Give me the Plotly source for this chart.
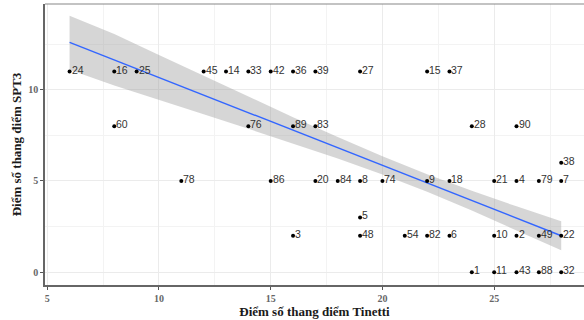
import plotly.graph_objects as go

# Scatter points: Tinetti score (x), SPT3 score (y), patient label
tinetti = [6, 8, 9, 12, 13, 14, 15, 16, 17, 19, 22, 23,
           8, 14, 16, 17, 24, 26,
           28,
           11, 15, 17, 18, 19, 20, 22, 23, 25, 26, 27, 28,
           19,
           16, 19, 21, 22, 23, 25, 26, 27, 28,
           24, 25, 26, 27, 28]
spt3 = [11, 11, 11, 11, 11, 11, 11, 11, 11, 11, 11, 11,
        8, 8, 8, 8, 8, 8,
        6,
        5, 5, 5, 5, 5, 5, 5, 5, 5, 5, 5, 5,
        3,
        2, 2, 2, 2, 2, 2, 2, 2, 2,
        0, 0, 0, 0, 0]
labels = ["24", "16", "25", "45", "14", "33", "42", "36", "39", "27", "15", "37",
          "60", "76", "89", "83", "28", "90",
          "38",
          "78", "86", "20", "84", "8", "74", "9", "18", "21", "4", "79", "7",
          "5",
          "3", "48", "54", "82", "6", "10", "2", "49", "22",
          "1", "11", "43", "88", "32"]

# Linear fit and its confidence band
fit_x = [6, 8, 10, 12, 14, 16, 18, 20, 22, 24, 26, 28]
fit_y = [12.60, 11.64, 10.67, 9.71, 8.74, 7.78, 6.82, 5.85, 4.89, 3.92, 2.96, 2.00]
band_hi = [14.05, 13.05, 11.90, 10.76, 9.62, 8.50, 7.41, 6.35, 5.37, 4.46, 3.61, 2.80]
band_lo = [11.10, 10.23, 9.44, 8.66, 7.86, 7.06, 6.23, 5.35, 4.41, 3.38, 2.31, 1.20]

x_ticks = [5, 10, 15, 20, 25]
y_ticks = [0, 5, 10]
x_title = "Điểm số thang điểm Tinetti"
y_title = "Điểm số thang điểm SPT3"

fig = go.Figure()
fig.add_trace(go.Scatter(
    x=fit_x + fit_x[::-1], y=band_hi + band_lo[::-1],
    fill="toself", fillcolor="rgba(153,153,153,0.4)",
    line=dict(width=0), mode="lines", hoverinfo="skip", showlegend=False))
fig.add_trace(go.Scatter(
    x=fit_x, y=fit_y, mode="lines",
    line=dict(color="#3366FF", width=1.4), showlegend=False))
fig.add_trace(go.Scatter(
    x=tinetti, y=spt3, mode="markers",
    marker=dict(color="black", size=4), showlegend=False))

for xv, yv, lab in zip(tinetti, spt3, labels):
    fig.add_annotation(x=xv, y=yv, text=lab, showarrow=False,
                       xanchor="left", yanchor="middle", xshift=0, yshift=2,
                       font=dict(family="Liberation Sans, Arial", size=10.5, color="#333333"))

axis_font = dict(family="Liberation Serif, serif", size=10, color="#666666", weight="bold")
title_font = dict(family="Liberation Serif, serif", size=13, color="#1a1a1a", weight="bold")

fig.update_xaxes(
    range=[4.9, 29.02], tickvals=x_ticks, ticks="outside", ticklen=3,
    tickcolor="#555555", tickfont=axis_font, automargin=False,
    showgrid=True, gridcolor="#ebebeb", gridwidth=1,
    minor=dict(showgrid=True, gridcolor="#f3f3f3", gridwidth=0.8, dtick=2.5, tick0=2.5),
    showline=True, linecolor="#666666", linewidth=1.5, zeroline=False,
    title=dict(text=x_title, font=title_font, standoff=0))
fig.update_yaxes(
    range=[-0.7, 14.7], tickvals=y_ticks, ticks="outside", ticklen=3,
    tickcolor="#555555", tickfont=axis_font, automargin=False,
    showgrid=True, gridcolor="#ebebeb", gridwidth=1,
    minor=dict(showgrid=True, gridcolor="#f3f3f3", gridwidth=0.8, dtick=2.5, tick0=2.5),
    showline=True, linecolor="#666666", linewidth=1.5, zeroline=False,
    title=dict(text=y_title, font=title_font, standoff=4))

fig.add_shape(type="line", xref="paper", yref="paper", x0=0, x1=1, y0=1, y1=1,
              line=dict(color="#888888", width=1.2))

fig.update_layout(
    width=584, height=320,
    margin=dict(l=45, r=0, t=4, b=35),
    plot_bgcolor="white", paper_bgcolor="white",
    showlegend=False)

fig.write_html("out.html", config={"displayModeBar": False},
               post_script="document.body.style.margin='0';document.body.style.overflow='hidden';")
